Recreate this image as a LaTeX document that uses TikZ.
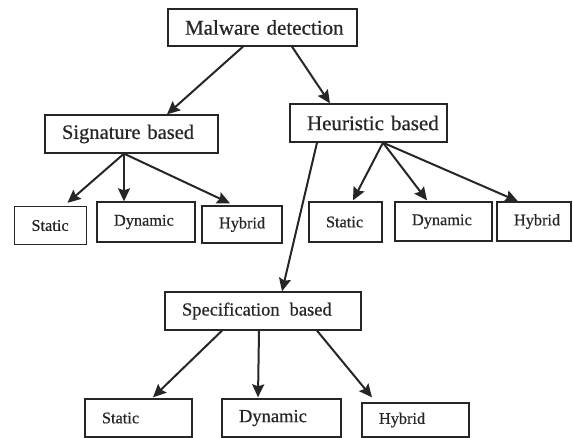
\documentclass[tikz,border=0pt]{standalone}
\usepackage{fontspec}
\setmainfont{Liberation Serif}
\newfontfamily\boxfont[FakeBold=0.6]{Liberation Serif}
\usetikzlibrary{arrows.meta}
\definecolor{ink}{HTML}{262626}
\tikzset{
  bx/.style={draw=ink, line width=1.3pt, text=ink, align=left, inner xsep=17pt, inner ysep=0pt, anchor=center},
  big/.style={font=\boxfont\fontsize{20.5}{22}\selectfont},
  small/.style={font=\boxfont\fontsize{16.3}{18}\selectfont},
  arr/.style={draw=ink, line width=2pt, -{Stealth[length=13pt,width=12pt,inset=2pt]}}
}
\begin{document}
\begin{tikzpicture}[x=1pt,y=-1pt]
\useasboundingbox (0,0) rectangle (573,438);
% level 0
\node[bx, font=\boxfont\fontsize{21}{23}\selectfont, minimum height=37pt, text width=155pt] (md) at (262.5,27.5) {\mbox{Malware detection}};
% level 1
\node[bx, big, minimum height=38pt, text width=139pt] (sb) at (131.5,134) {\mbox{Signature based}};
\node[bx, font=\boxfont\fontsize{21}{23}\selectfont, minimum height=38pt, text width=123pt] (hb) at (368.5,123) {\mbox{Heuristic based}};
% signature children
\node[bx, small, minimum height=38pt, text width=38pt] (s1) at (50.5,225.5) {\mbox{Static}};
\node[bx, small, minimum height=40pt, text width=64pt] (s2) at (146,222) {\mbox{Dynamic}};
\node[bx, small, minimum height=37pt, text width=46pt] (s3) at (242,224.5) {\mbox{Hybrid}};
% heuristic children
\node[bx, small, minimum height=40pt, text width=39pt] (h1) at (345.5,222) {\mbox{Static}};
\node[bx, small, minimum height=39pt, text width=63pt] (h2) at (443.5,221.5) {\mbox{Dynamic}};
\node[bx, small, minimum height=39pt, text width=40pt] (h3) at (534,221.5) {\mbox{Hybrid}};
% specification
\node[bx, font=\boxfont\fontsize{18.5}{20}\selectfont, minimum height=38pt, text width=162pt] (sp) at (263,311) {\mbox{Specification\hspace{10pt}based}};
\node[bx, small, minimum height=38pt, text width=73pt] (p1) at (138.5,418) {\mbox{Static}};
\node[bx, font=\boxfont\fontsize{18.5}{20}\selectfont, minimum height=38pt, text width=85pt] (p2) at (281.5,418) {\mbox{Dynamic}};
\node[bx, small, minimum height=34pt, text width=73pt] (p3) at (415.5,420) {\mbox{Hybrid}};
% connectors
\draw[arr] ([xshift=-19.5pt]md.south) -- ([xshift=35.5pt]sb.north);
\draw[arr] ([xshift=29.5pt]md.south) -- ([xshift=-38.5pt]hb.north);
\draw[arr] ([xshift=-7.5pt]sb.south) -- ([xshift=17pt,yshift=3pt]s1.north);
\draw[arr] ([xshift=-7.5pt]sb.south) -- ([xshift=-22pt]s2.north);
\draw[arr] ([xshift=-7.5pt]sb.south) -- ([xshift=-12pt,yshift=2pt]s3.north);
\draw[arr] ([xshift=14.5pt]hb.south) -- ([xshift=7.5pt,yshift=1pt]h1.north);
\draw[arr] ([xshift=14.5pt]hb.south) -- ([xshift=-16.5pt,yshift=1pt]h2.north);
\draw[arr] ([xshift=14.5pt]hb.south) -- ([xshift=-16pt]h3.north);
\draw[arr] ([xshift=-51.5pt]hb.south) -- ([xshift=19pt]sp.north);
\draw[arr] ([xshift=-41pt]sp.south) -- ([xshift=14.5pt,yshift=1pt]p1.north);
\draw[arr] ([xshift=-4pt]sp.south) -- ([xshift=-23.5pt,yshift=1pt]p2.north);
\draw[arr] ([xshift=54pt]sp.south) -- ([xshift=-43.5pt,yshift=5pt]p3.north);
\end{tikzpicture}
\end{document}
